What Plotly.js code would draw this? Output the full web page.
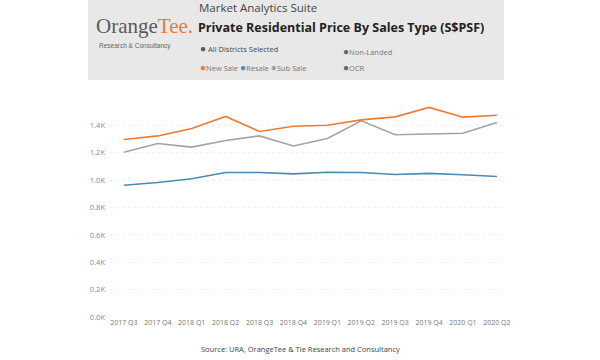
<!DOCTYPE html>
<html>
<head>
<meta charset="utf-8">
<script src="https://cdn.plot.ly/plotly-3.0.1.min.js"></script>
<style>
html,body{margin:0;padding:0;background:#fff;}
#chart{width:600px;height:360px;}
</style>
</head>
<body>
<div id="chart"></div>
<script>
const quarters = ["2017 Q3","2017 Q4","2018 Q1","2018 Q2","2018 Q3","2018 Q4","2019 Q1","2019 Q2","2019 Q3","2019 Q4","2020 Q1","2020 Q2"];
const newSale = [1297,1323,1377,1465,1355,1394,1401,1440,1462,1531,1460,1474];
const resale  = [963,983,1010,1056,1056,1046,1058,1056,1041,1049,1039,1027];
const subSale = [1204,1268,1241,1290,1323,1250,1304,1433,1331,1338,1343,1421];
const yTickVals = [0,200,400,600,800,1000,1200,1400];
const yTickText = ["0.0K","0.2K","0.4K","0.6K","0.8K","1.0K","1.2K","1.4K"];

// plot area in pixels
const L = 110, R = 503, T = 98, B = 317;
const W = 600, H = 360;
const px = x => (x - L) / (R - L);
const py = y => (B - y) / (B - T);

const traces = [
  {x: quarters, y: subSale, name: "Sub Sale", mode: "lines", line: {color: "#a3a3a3", width: 1.6}},
  {x: quarters, y: resale, name: "Resale", mode: "lines", line: {color: "#4a8ab3", width: 1.6}},
  {x: quarters, y: newSale, name: "New Sale", mode: "lines", line: {color: "#f07a32", width: 1.6}}
];

const lbl = "#555";
const ann = (x, y, text, opts) => Object.assign({
  xref: "paper", yref: "paper", x: px(x), y: py(y), text: text, showarrow: false,
  xanchor: "left", yanchor: "middle", font: {family: "Open Sans", size: 8, color: lbl}
}, opts || {});
const dot = c => "<span style='color:" + c + ";font-size:10px'>●</span>";

const annotations = [
  ann(94, 26, "Orange<span style='color:#ee7a30'>Tee.</span>",
      {font: {family: "Liberation Serif", size: 21, color: "#5a5a5a"}}),
  ann(135, 46, "Research &amp; Consultancy", {xanchor: "center", font: {family: "Liberation Sans", size: 6.5, color: "#666"}}),
  ann(197, 8, "Market Analytics Suite", {font: {family: "Open Sans", size: 11.5, color: "#444"}}),
  ann(196, 28, "<b>Private Residential Price By Sales Type (S$PSF)</b>", {font: {family: "Open Sans", size: 12.5, color: "#222"}}),
  ann(198, 48, dot("#555") + " All Districts Selected", {font: {family: "Open Sans", size: 7.5, color: "#444"}}),
  ann(341, 51, dot("#666") + "Non-Landed", {font: {family: "Open Sans", size: 7.5, color: "#777"}}),
  ann(198, 67, dot("#f07a32") + "New Sale " + dot("#4a8ab3") + "Resale " + dot("#a3a3a3") + "Sub Sale", {font: {family: "Open Sans", size: 7.5, color: "#777"}}),
  ann(341, 67, dot("#666") + "OCR", {font: {family: "Open Sans", size: 7.5, color: "#777"}}),
  ann(300, 349, "Source: URA, OrangeTee &amp; Tie Research and Consultancy", {xanchor: "center", font: {family: "Open Sans", size: 7.5, color: "#444"}})
];

const shapes = [
  {type: "rect", xref: "paper", yref: "paper", x0: px(88), x1: px(504), y0: py(80), y1: py(0),
   fillcolor: "#e8e8e8", line: {width: 0}, layer: "below"}
];

const layout = {
  width: W, height: H,
  margin: {l: L, r: W - R, t: T, b: H - B, pad: 0},
  paper_bgcolor: "#fff", plot_bgcolor: "#fff",
  showlegend: false,
  xaxis: {
    type: "category", range: [-0.41, 11.18], showgrid: false, zeroline: false, showline: false,
    ticks: "", tickfont: {family: "Open Sans", size: 7, color: "#777"}, tickangle: 0, automargin: false
  },
  yaxis: {
    range: [0, 1600], tickvals: yTickVals, ticktext: yTickText, showgrid: true,
    gridcolor: "#efefef", griddash: "dot", gridwidth: 1, zeroline: false, showline: false,
    ticks: "", ticklabelstandoff: 4, tickfont: {family: "Open Sans", size: 7.5, color: "#888"}, automargin: false
  },
  annotations: annotations,
  shapes: shapes
};

Plotly.newPlot("chart", traces, layout, {displayModeBar: false, staticPlot: true});
</script>
</body>
</html>
